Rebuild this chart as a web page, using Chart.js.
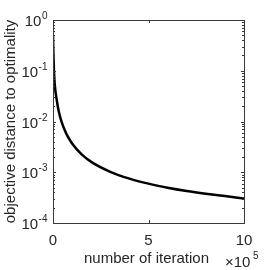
<!DOCTYPE html>
<html lang="en">
<head>
<meta charset="utf-8">
<script src="https://cdn.jsdelivr.net/npm/chart.js@4/dist/chart.umd.min.js"></script>
<style>
  html, body { margin: 0; padding: 0; background: #fff; }
</style>
</head>
<body>
<canvas id="canvas" width="270" height="270"></canvas>
<script>
// iterations (x 10^5) and objective distance
var iterations = [0, 0.02, 0.05, 0.1, 0.2, 0.3, 0.45, 0.7, 1, 1.5, 2, 3, 4, 5, 6, 7, 8, 9, 10];
var distance = [0.5, 0.22, 0.1, 0.05, 0.026, 0.016, 0.0098, 0.0057, 0.0037, 0.00225, 0.0016, 0.00102, 0.00075, 0.000596, 0.000497, 0.000428, 0.000378, 0.000339, 0.000305];
var xTicks = [0, 5, 10];
var yExponents = [0, -1, -2, -3, -4];
var xLabel = "number of iteration";
var yLabel = "objective distance to optimality";

var axisColor = "#3a3a3a";
var textColor = "#262626";
var font = "Liberation Sans, Arial, sans-serif";

// draws the box, ticks and labels (matlab style) using the chart scales
var axesPlugin = {
  id: "matlabAxes",
  afterDraw: function(chart) {
    var ctx = chart.ctx;
    var a = chart.chartArea;
    var xs = chart.scales.x, ys = chart.scales.y;
    ctx.save();
    ctx.strokeStyle = axisColor;
    ctx.lineWidth = 1;
    ctx.strokeRect(Math.round(a.left) + 0.5, Math.round(a.top) + 0.5,
      Math.round(a.right - a.left), Math.round(a.bottom - a.top));

    ctx.beginPath();
    // x ticks, inward on bottom and top
    xTicks.forEach(function(v) {
      var px = Math.round(xs.getPixelForValue(v)) + 0.5;
      ctx.moveTo(px, a.bottom); ctx.lineTo(px, a.bottom - 3);
      ctx.moveTo(px, a.top); ctx.lineTo(px, a.top + 3);
    });
    // y major and minor ticks, inward on left and right
    yExponents.forEach(function(e) {
      for (var k = 1; k <= 9; k++) {
        var v = k * Math.pow(10, e);
        if (v > ys.max * 1.0001) continue;
        var py = Math.round(ys.getPixelForValue(v)) + 0.5;
        var len = k == 1 ? 3 : 2;
        ctx.moveTo(a.left, py); ctx.lineTo(a.left + len, py);
        ctx.moveTo(a.right, py); ctx.lineTo(a.right - len, py);
      }
    });
    ctx.stroke();

    ctx.fillStyle = textColor;
    ctx.textBaseline = "alphabetic";
    // y tick labels 10^e
    yExponents.forEach(function(e) {
      var py = ys.getPixelForValue(Math.pow(10, e));
      ctx.font = "15px " + font;
      var wb = ctx.measureText("10").width;
      ctx.font = "10px " + font;
      var es = e == 0 ? "0" : "-" + (-e);
      var we = ctx.measureText(es).width;
      var x0 = a.left - 6 - wb - we;
      ctx.font = "15px " + font;
      ctx.textAlign = "left";
      ctx.fillText("10", x0, py + 6);
      ctx.font = "10px " + font;
      ctx.fillText(es, x0 + wb + 0.5, py - 1);
    });
    // x tick labels
    ctx.font = "15px " + font;
    ctx.textAlign = "center";
    xTicks.forEach(function(v) {
      ctx.fillText(String(v), xs.getPixelForValue(v), a.bottom + 22);
    });
    // x label
    ctx.fillText(xLabel, (a.left + a.right) / 2 - 2, a.bottom + 40);
    // exponent x10^5
    ctx.textAlign = "left";
    ctx.fillText("\u00d710", a.right - 19, a.bottom + 44);
    ctx.font = "10px " + font;
    ctx.fillText("5", a.right + 9, a.bottom + 36);
    // y label
    ctx.font = "15px " + font;
    ctx.textAlign = "center";
    ctx.translate(15, (a.top + a.bottom) / 2);
    ctx.rotate(-Math.PI / 2);
    ctx.fillText(yLabel, 0, 0);
    ctx.restore();
  }
};

var points = iterations.map(function(x, i) { return { x: x, y: distance[i] }; });

var config = {
  type: "line",
  data: {
    datasets: [{
      data: points,
      borderColor: "#000",
      borderWidth: 2.5,
      pointRadius: 0,
      fill: false,
      cubicInterpolationMode: "monotone"
    }]
  },
  options: {
    responsive: false,
    animation: false,
    layout: { padding: { left: 53, right: 26, top: 20, bottom: 47 } },
    plugins: { legend: { display: false }, tooltip: { enabled: false } },
    scales: {
      x: { type: "linear", min: 0, max: 10, display: false },
      y: { type: "logarithmic", min: 1e-4, max: 1, display: false }
    }
  },
  plugins: [axesPlugin]
};

var chart = new Chart(document.getElementById("canvas").getContext("2d"), config);
</script>
</body>
</html>
